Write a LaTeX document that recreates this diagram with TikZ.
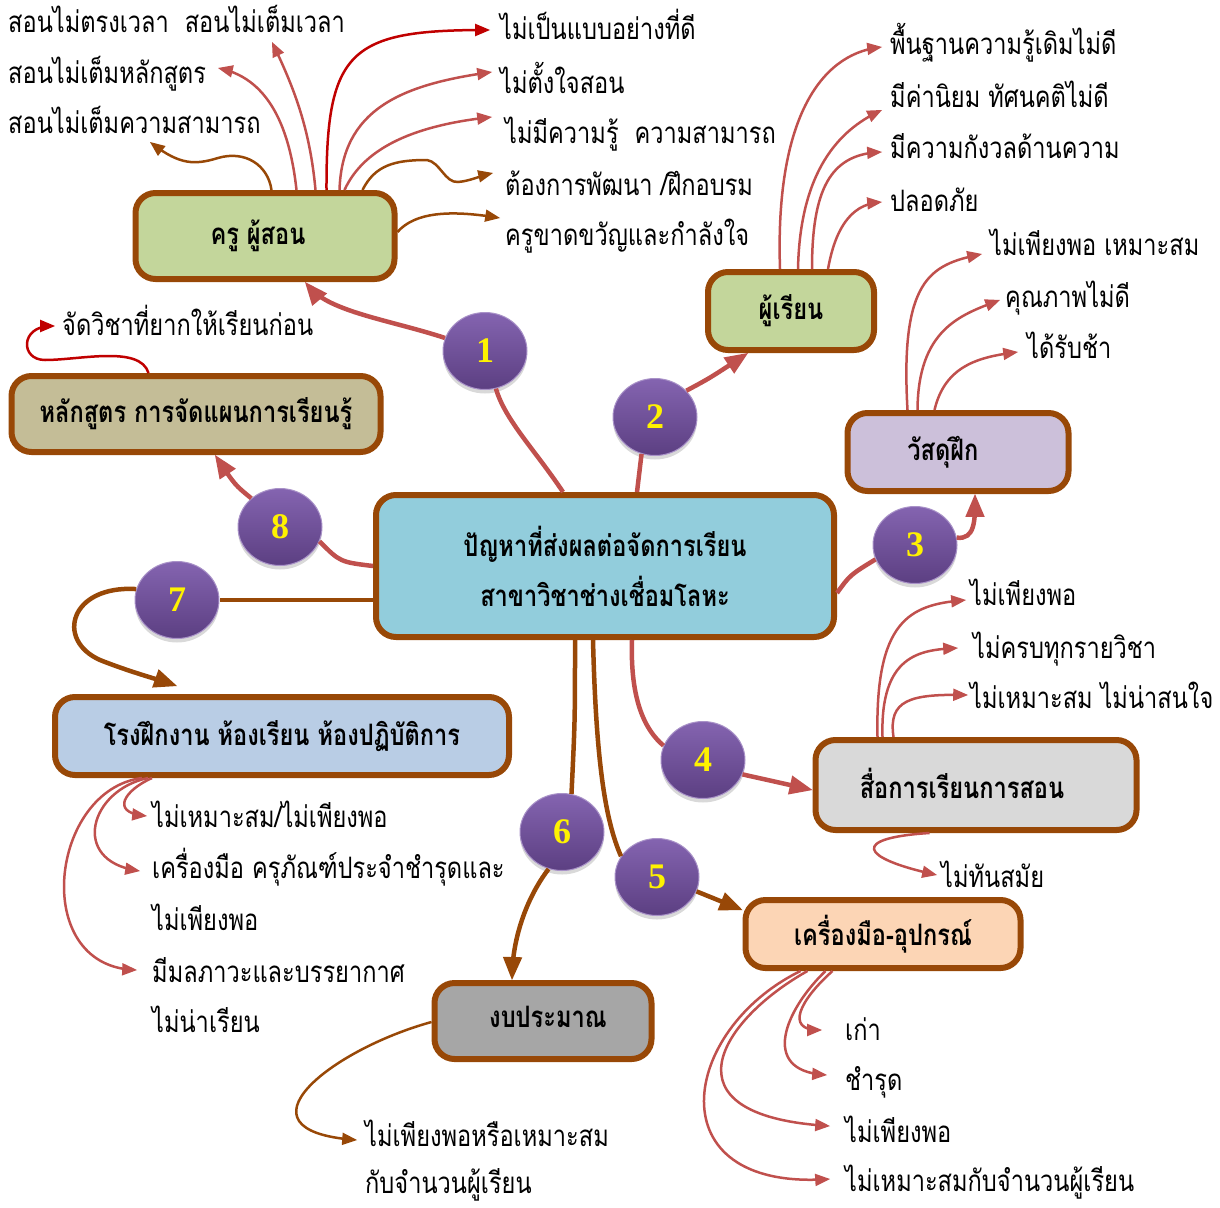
\documentclass[tikz,border=0pt]{standalone}
\usepackage{fontspec}
\setmainfont{Liberation Serif}
\newfontfamily\thai[Script=Thai, FakeStretch=0.8]{Loma}
\usepackage{tikz}
\usetikzlibrary{arrows}
\usetikzlibrary{shapes.geometric}
\usetikzlibrary{shadows}
\definecolor{brn}{HTML}{984807}
\definecolor{rd}{HTML}{C0504D}
\definecolor{drd}{HTML}{C00000}
\definecolor{ptop}{HTML}{8464B0}
\definecolor{pbot}{HTML}{5C3F82}
\tikzset{x = 1pt, y = -1pt, > = triangle 45,
  box/.style = {draw = brn, line width = 6pt, rounded corners = 20pt, align = center,
    inner sep = 0pt, font = \thai\bfseries\fontsize{29.5}{50}\selectfont},
  num/.style = {ellipse, minimum width = 84pt, minimum height = 77pt, inner sep = 0pt,
    top color = ptop, bottom color = pbot, draw = ptop!70!white, line width = 1pt,
    drop shadow = {shadow xshift = 0pt, shadow yshift = -4pt, opacity = 0.3},
    text = yellow, font = \bfseries\fontsize{36}{36}\selectfont},
  leaf/.style = {anchor = base west, inner sep = 0pt, font = \thai\fontsize{29.5}{30}\selectfont},
  link/.style = {line width = 2.5pt, ->},
  main/.style = {line width = 4.5pt}}

\begin{document}
\begin{tikzpicture}
  \useasboundingbox (0,0) rectangle (1220,1207);
  % boxes
  \node [box, fill = {rgb,255:red,146;green,205;blue,220}, minimum width = 458pt, minimum height = 142pt]
    (center) at (605,566) {ปัญหาที่ส่งผลต่อจัดการเรียน\\สาขาวิชาช่างเชื่อมโลหะ};
  \node [box, fill = {rgb,255:red,195;green,214;blue,155}, minimum width = 259pt, minimum height = 86pt]
    (teacher) at (265,236) {\raisebox{5pt}{ครู ผู้สอน}\hspace*{14pt}};
  \node [box, fill = {rgb,255:red,195;green,214;blue,155}, minimum width = 166pt, minimum height = 78pt]
    (learner) at (791,311) {\raisebox{3pt}{ผู้เรียน}};
  \node [box, fill = {rgb,255:red,204;green,192;blue,218}, minimum width = 221pt, minimum height = 78pt]
    (material) at (958,452) {วัสดุฝึก\hspace*{30pt}};
  \node [box, fill = {rgb,255:red,196;green,189;blue,151}, minimum width = 369pt, minimum height = 76pt]
    (curriculum) at (196,414) {\raisebox{3pt}{หลักสูตร การจัดแผนการเรียนรู้}};
  \node [box, fill = {rgb,255:red,185;green,205;blue,229}, minimum width = 454pt, minimum height = 78pt]
    (workshop) at (282,736) {\raisebox{3pt}{โรงฝึกงาน ห้องเรียน ห้องปฏิบัติการ}};
  \node [box, fill = {rgb,255:red,217;green,217;blue,217}, minimum width = 321pt, minimum height = 90pt]
    (media) at (976,785) {\raisebox{4pt}{สื่อการเรียนการสอน}\hspace*{28pt}};
  \node [box, fill = {rgb,255:red,252;green,213;blue,181}, minimum width = 275pt, minimum height = 68pt]
    (tools) at (883,934) {เครื่องมือ-อุปกรณ์};
  \node [box, fill = {rgb,255:red,166;green,166;blue,166}, minimum width = 217pt, minimum height = 76pt]
    (budget) at (543,1021) {\hspace*{10pt}\raisebox{8pt}{งบประมาณ}};

  % numbered circles
  \foreach \n/\cx/\cy in {1/485/351, 2/655/417, 3/915/545, 4/703/760,
                          5/657/877, 6/562/832, 7/177/600, 8/280/527}
    \node [num] (\n) at (\cx,\cy) {\n};

  % labels
  \node [leaf] (t1) at (8,33) {สอนไม่ตรงเวลา\ \ สอนไม่เต็มเวลา};
  \node [leaf] (t2) at (8,83) {สอนไม่เต็มหลักสูตร};
  \node [leaf] (t3) at (8,133) {สอนไม่เต็มความสามารถ};
  \node [leaf] (t4) at (500,40) {ไม่เป็นแบบอย่างที่ดี};
  \node [leaf] (t5) at (500,93) {ไม่ตั้งใจสอน};
  \node [leaf] (t6) at (505,143) {ไม่มีความรู้\ \ ความสามารถ};
  \node [leaf] (t7) at (505,195) {ต้องการพัฒนา /ฝึกอบรม};
  \node [leaf] (t8) at (505,245) {ครูขาดขวัญและกำลังใจ};
  \node [leaf] (s1) at (890,55) {พื้นฐานความรู้เดิมไม่ดี};
  \node [leaf] (s2) at (890,107) {มีค่านิยม ทัศนคติไม่ดี};
  \node [leaf] (s3) at (890,158) {มีความกังวลด้านความ};
  \node [leaf] (s4) at (890,211) {ปลอดภัย};
  \node [leaf] (m1) at (990,255) {ไม่เพียงพอ เหมาะสม};
  \node [leaf] (m2) at (1005,307) {คุณภาพไม่ดี};
  \node [leaf] (m3) at (1027,358) {ได้รับช้า};
  \node [leaf] (d1) at (970,605) {ไม่เพียงพอ};
  \node [leaf] (d2) at (973,658) {ไม่ครบทุกรายวิชา};
  \node [leaf] (d3) at (970,708) {ไม่เหมาะสม ไม่น่าสนใจ};
  \node [leaf] (d4) at (941,887) {ไม่ทันสมัย};
  \node [leaf] (e1) at (845,1040) {เก่า};
  \node [leaf] (e2) at (845,1090) {ชำรุด};
  \node [leaf] (e3) at (845,1142) {ไม่เพียงพอ};
  \node [leaf] (e4) at (845,1191) {ไม่เหมาะสมกับจำนวนผู้เรียน};
  \node [leaf] (w1) at (152,827) {ไม่เหมาะสม/ไม่เพียงพอ};
  \node [leaf] (w2) at (152,878) {เครื่องมือ ครุภัณฑ์ประจำชำรุดและ};
  \node [leaf] (w2b) at (152,930) {ไม่เพียงพอ};
  \node [leaf] (w3) at (152,982) {มีมลภาวะและบรรยากาศ};
  \node [leaf] (w3b) at (152,1032) {ไม่น่าเรียน};
  \node [leaf] (b1) at (365,1146) {ไม่เพียงพอหรือเหมาะสม};
  \node [leaf] (b1b) at (365,1193) {กับจำนวนผู้เรียน};
  \node [leaf] (c1) at (62,335) {จัดวิชาที่ยากให้เรียนก่อน};

  % main branches
  \draw [main, rd] ([xshift = -42pt]center.north) .. controls (535,450) and (505,420) .. (1);
  \draw [main, rd, ->] (1) .. controls (390,320) and (330,312) .. ([xshift = 40pt]teacher.south);
  \draw [main, rd] ([xshift = 32pt]center.north) -- (2.250);
  \draw [main, rd, ->] (2.40) .. controls (710,378) .. ([xshift = -43pt]learner.south);
  \draw [main, rd] ([yshift = -27pt]center.east) .. controls (850,575) .. (3.200);
  \draw [main, rd, ->] (3.10) .. controls (975,540) and (975,520) .. ([xshift = 17pt]material.south);
  \draw [main, rd] ([xshift = 27pt]center.south) .. controls (630,700) and (645,730) .. (4.160);
  \draw [main, rd, ->] (4.-20) -- ([yshift = -5pt]media.west);
  \draw [main, brn] ([xshift = -12pt]center.south) .. controls (596,760) and (605,820) .. (5.150);
  \draw [main, brn, ->] (5.-20) -- ([yshift = -13pt]tools.north west);
  \draw [main, brn] ([xshift = -30pt]center.south) .. controls (575,720) .. (6.76);
  \draw [main, brn, ->] (6.250) .. controls (525,900) and (513,940) .. ([xshift = -31pt]budget.north);
  \draw [main, brn] ([yshift = -34pt]center.west) -- (7);
  \draw [main, brn, ->] (7.165) .. controls (70,585) and (55,640) .. (100,660)
    .. controls (130,672) and (160,680) .. ([xshift = -105pt, yshift = 8pt]workshop.north);
  \draw [main, rd] (center.west) .. controls (340,562) .. (8.-20);
  \draw [main, rd, ->] (8.135) .. controls (235,485) .. ([xshift = 19pt]curriculum.south);

  % teacher
  \draw [link, brn] ([xshift = 139pt]teacher.north west) .. controls (268,165) and (245,150) .. (218,158)
    .. controls (195,165) and (180,165) .. ([xshift = 142pt, yshift = -9pt]t3.base west);
  \draw [link, rd] ([xshift = 164pt]teacher.north west) .. controls (290,130) and (270,80) .. ([xshift = 210pt, yshift = 15pt]t2.base west);
  \draw [link, rd] ([xshift = 183pt]teacher.north west) .. controls (310,130) and (295,90) .. ([xshift = 264pt, yshift = -9pt]t1.base west);
  \draw [link, drd] ([xshift = 194pt]teacher.north west) .. controls (326,50) and (350,30) .. ([xshift = -10pt, yshift = 10pt]t4.base west);
  \draw [link, rd] ([xshift = 207pt]teacher.north west) .. controls (342,110) and (400,85) .. ([xshift = -8pt, yshift = 21pt]t5.base west);
  \draw [link, rd] ([xshift = 212pt]teacher.north west) .. controls (365,145) and (420,125) .. ([xshift = -13pt, yshift = 26pt]t6.base west);
  \draw [link, brn] ([xshift = 230pt]teacher.north west) .. controls (375,165) and (395,160) .. (427,160)
    .. controls (440,162) and (445,183) .. (458,182) .. controls (470,181) and (480,176) .. ([xshift = -12pt, yshift = 22pt]t7.base west);
  \draw [link, brn] ([yshift = 4pt]teacher.east) .. controls (415,212) and (450,210) .. ([xshift = -5pt, yshift = 27pt]t8.base west);

  % learner
  \draw [link, rd] ([xshift = 75pt]learner.north west) .. controls (775,120) and (820,55) .. ([xshift = -8pt, yshift = 8pt]s1.base west);
  \draw [link, rd] ([xshift = 93pt]learner.north west) .. controls (800,170) and (840,130) .. ([xshift = -8pt, yshift = -3pt]s2.base west);
  \draw [link, rd] ([xshift = 107pt]learner.north west) .. controls (812,190) and (830,155) .. ([xshift = -8pt, yshift = 6pt]s3.base west);
  \draw [link, rd] ([xshift = 123pt]learner.north west) .. controls (835,230) and (850,205) .. ([xshift = -8pt, yshift = 9pt]s4.base west);

  % material
  \draw [link, rd] ([xshift = 63pt]material.north west) .. controls (900,280) and (930,265) .. ([xshift = -8pt, yshift = 1pt]m1.base west);
  \draw [link, rd] ([xshift = 73pt]material.north west) .. controls (918,330) and (960,315) .. ([xshift = -5pt, yshift = 7pt]m2.base west);
  \draw [link, rd] ([xshift = 90pt]material.north west) .. controls (945,365) and (980,357) .. ([xshift = -9pt, yshift = 6pt]m3.base west);

  % media
  \draw [link, rd] ([xshift = 65pt]media.north west) .. controls (875,620) and (910,605) .. ([xshift = -4pt, yshift = 5pt]d1.base west);
  \draw [link, rd] ([xshift = 70pt]media.north west) .. controls (880,655) and (920,650) .. ([xshift = -15pt, yshift = 10pt]d2.base west);
  \draw [link, rd] ([xshift = 81pt]media.north west) .. controls (888,700) and (910,694) .. ([xshift = -2pt, yshift = 13pt]d3.base west);
  \draw [link, rd] ([xshift = 117pt]media.south west) .. controls (850,838) and (860,858) .. ([xshift = -4pt, yshift = 12pt]d4.base west);

  % tools
  \draw [link, rd] ([xshift = 90pt]tools.south west) .. controls (800,1000) and (785,1030) .. ([xshift = -23pt, yshift = 10pt]e1.base west);
  \draw [link, rd] ([xshift = 83pt]tools.south west) .. controls (785,1010) and (760,1070) .. ([xshift = -18pt, yshift = 15pt]e2.base west);
  \draw [link, rd] ([xshift = 65pt]tools.south west) .. controls (720,1020) and (660,1115) .. ([xshift = -15pt, yshift = 16pt]e3.base west);
  \draw [link, rd] ([xshift = 58pt]tools.south west) .. controls (680,1030) and (655,1190) .. ([xshift = -15pt, yshift = 12pt]e4.base west);

  % workshop
  \draw [link, rd] ([xshift = 100pt]workshop.south west) .. controls (125,790) and (110,812) .. ([xshift = -5pt, yshift = 11pt]w1.base west);
  \draw [link, rd] ([xshift = 96pt]workshop.south west) .. controls (90,790) and (70,860) .. ([xshift = -12pt, yshift = 7pt]w2.base west);
  \draw [link, rd] ([xshift = 90pt]workshop.south west) .. controls (50,790) and (30,965) .. ([xshift = -15pt, yshift = 12pt]w3.base west);

  % budget, curriculum
  \draw [link, brn] ([yshift = -1pt]budget.west) .. controls (330,1050) and (230,1130) .. ([xshift = -8pt, yshift = 6pt]b1.base west);
  \draw [link, drd] ([xshift = 140pt]curriculum.north west) .. controls (140,345) and (80,360) .. (45,360)
    .. controls (20,360) and (20,326) .. ([xshift = -7pt, yshift = 9pt]c1.base west);
\end{tikzpicture}
\end{document}
